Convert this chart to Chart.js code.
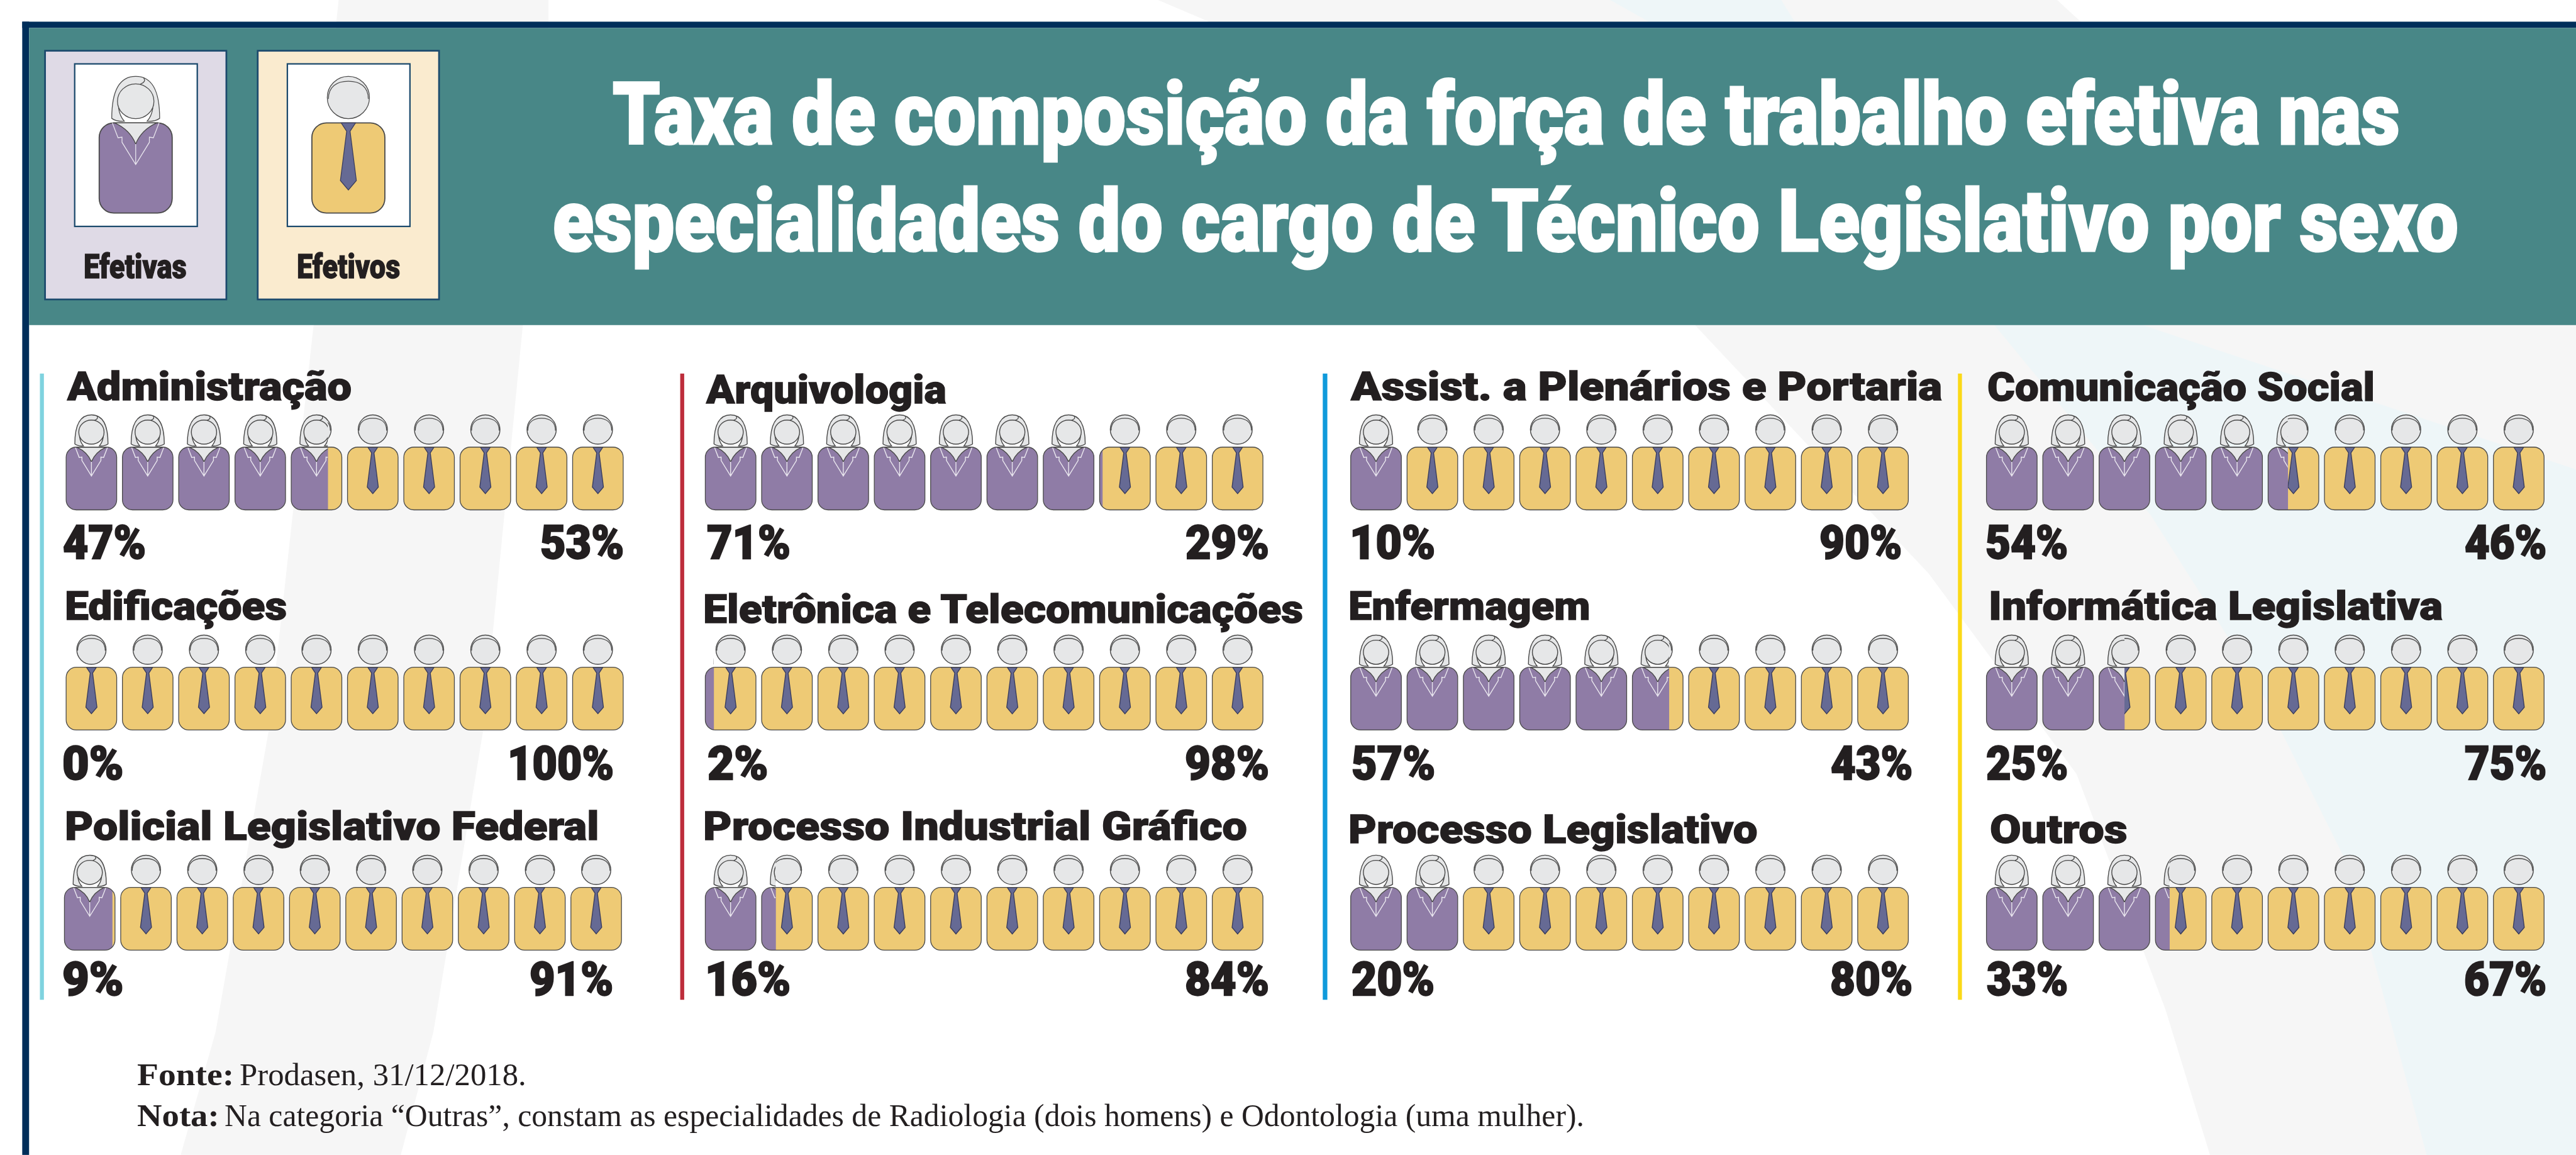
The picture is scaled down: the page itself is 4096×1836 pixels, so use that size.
<!DOCTYPE html>
<html lang="pt">
<head>
<meta charset="utf-8">
<title>Taxa de composição da força de trabalho efetiva</title>
<script src="https://cdn.jsdelivr.net/npm/chart.js@4"></script>
<style>
html,body{margin:0;padding:0;background:#fff;overflow:hidden;width:4096px;height:1836px}
#stage{position:relative;width:4096px;height:1836px;overflow:hidden}
canvas{position:absolute;display:block}
.t{position:absolute;white-space:pre;transform-origin:0 0;margin:0}
</style>
</head>
<body>
<div id="stage"><canvas id="bg" width="4096" height="1836" style="left:0;top:0"></canvas></div>
<script>
// ---------- data ----------
const categories = ["Administração","Arquivologia","Assist. a Plenários e Portaria","Comunicação Social",
  "Edificações","Eletrônica e Telecomunicações","Enfermagem","Informática Legislativa",
  "Policial Legislativo Federal","Processo Industrial Gráfico","Processo Legislativo","Outros"];
// printed percentages
const womenPct = [47,71,10,54,0,2,57,25,9,16,20,33];
const menPct   = [53,29,90,46,100,98,43,75,91,84,80,67];
// fill split as actually drawn in the picture
const womenFill = [47,71,10,54,0,2,57,25,9,13,20,33];
const menFill   = [53,29,90,46,100,98,43,75,91,87,80,67];
const seriesNames = ["Efetivas","Efetivos"];
const titleLines = ["Taxa de composição da força de trabalho efetiva nas","especialidades do cargo de Técnico Legislativo por sexo"];
const sourceLabel = "Fonte:", sourceText = "Prodasen, 31/12/2018.";
const noteLabel = "Nota:", noteText = "Na categoria “Outras”, constam as especialidades de Radiologia (dois homens) e Odontologia (uma mulher).";

// ---------- layout (reference pixels) ----------
const K = 4096/4518;
const C = {women:"#8f7ca6",men:"#eeca75",tie:"#666a94",head:"#e6e7e8",line:"#4a4a4a",ink:"#231f20",
  teal:"#488787",navy:"#002e5a",lilac:"#dfdae6",cream:"#faebcf",gray:"#f6f6f6",pale:"#eef6f8",cardEdge:"#1c4a6d"};
const figL=[116,1237,2369,3484,116,1237,2369,3484,113,1237,2369,3484];
const figR=[1093,2215,3347,4462,1093,2215,3347,4462,1090,2215,3347,4462];
const bodyTop=[784,784,784,784,1170,1170,1170,1170,1556,1556,1556,1556];
const BODY_H=110, GAP=10;
const nameX=[[117,616],[1237,1659],[2368,3406],[3487,4162],[117,502],[1237,2287],[2368,2786],[3491,4283],[117,1047],[1237,2187],[2368,3081],[3491,3729]];
const nameBase=[701,707,701,703,1087,1092,1087,1087,1473,1473,1478,1478];
const pctBase=[980,980,980,980,1367,1367,1367,1367,1745,1745,1745,1745];
const wX=[[111,254],[1241,1385],[2372,2515],[3484,3625],[111,214],[1242,1345],[2372,2515],[3484,3625],[111,214],[1242,1385],[2372,2515],[3484,3625]];
const mX=[[950,1093],[2080,2224],[3193,3334],[4324,4465],[895,1074],[2080,2224],[3212,3353],[4324,4465],[931,1074],[2080,2224],[3212,3353],[4324,4465]];
const accents=[[70,77,"#7fd3df"],[1193,1200,"#bd2d3b"],[2320,2328,"#0f9adb"],[3434,3441,"#fbd917"]];

// ---------- figure pieces (local units: body 128 x 158, x=0 at centre, y=0 at body top) ----------
function bodyPath(ctx,x,y,w,h){ctx.roundRect(x,y,w,h,w*0.2);}
function womanHead(c){
  c.fillStyle=C.head;c.strokeStyle=C.line;
  c.beginPath();c.moveTo(-42,-8);c.bezierCurveTo(-42,-42,-36,-81.5,0,-81.5);c.bezierCurveTo(36,-81.5,42,-42,42,-8);
  c.quadraticCurveTo(34,-2,20,-3);c.quadraticCurveTo(28,-12,30,-26);c.lineTo(-30,-26);c.quadraticCurveTo(-28,-12,-20,-3);c.quadraticCurveTo(-34,-2,-42,-8);c.closePath();c.fill();c.stroke();
  c.beginPath();c.ellipse(0,-38,32,30.5,0,0,7);c.fill();c.stroke();
  c.beginPath();c.moveTo(14,-79);c.quadraticCurveTo(19,-72,8,-68);c.stroke();
}
function womanCollar(c){
  c.fillStyle=C.head;c.strokeStyle=C.line;
  c.beginPath();c.moveTo(-37,0);c.quadraticCurveTo(-10,12,0,37);c.quadraticCurveTo(10,12,37,0);c.closePath();c.fill();c.stroke();
  c.strokeStyle="#e9e6ee";
  c.beginPath();c.moveTo(-41,0);c.lineTo(-31,26);c.lineTo(-24,25);c.lineTo(-24,34);c.lineTo(0,73);c.lineTo(24,34);c.lineTo(24,25);c.lineTo(31,26);c.lineTo(41,0);c.moveTo(0,37);c.lineTo(0,73);c.stroke();
}
function manHead(c){
  c.fillStyle=C.head;c.strokeStyle=C.line;
  c.beginPath();c.ellipse(0,-44.5,37,37,0,0,7);c.fill();c.stroke();
  c.beginPath();c.moveTo(-35,-42);c.bezierCurveTo(-35,-64,-20,-73,0,-73);c.bezierCurveTo(20,-73,35,-64,35,-42);c.stroke();
}
function manTie(c){
  c.fillStyle=C.tie;c.strokeStyle="#3a3d5e";
  c.beginPath();c.moveTo(-12.6,0);c.lineTo(12.6,0);c.lineTo(3,14.6);c.lineTo(14,101);c.lineTo(0,117.5);c.lineTo(-14,101);c.lineTo(-3,14.6);c.closePath();c.fill();c.stroke();
}
function local(ctx,cx,top,s,fn){
  ctx.save();ctx.translate(cx,top);ctx.scale(s,s);ctx.lineWidth=1.4/Math.max(s,0.6);fn(ctx);ctx.restore();
}

// ---------- background, frame, header, legend cards ----------
(function(){
  const c=document.getElementById("bg").getContext("2d");c.scale(K,K);
  const poly=(pts,col)=>{c.fillStyle=col;c.beginPath();pts.forEach((p,i)=>i?c.lineTo(p[0],p[1]):c.moveTo(p[0],p[1]));c.closePath();c.fill();};
  c.fillStyle="#fff";c.fillRect(0,0,4518,2025);
  poly([[594,0],[590,37],[550,570],[472,1277],[378,1810],[317,2025],[703,2025],[760,1810],[848,1277],[917,570],[962,37],[962,0]],C.gray);
  poly([[2031,0],[2118,37],[2973,570],[3383,1006],[3642,1357],[3798,1770],[3876,2025],[4518,2025],[4518,500],[3648,37],[3608,0]],C.gray);
  poly([[2824,0],[2890,37],[3498,570],[3772,903],[3959,1198],[4118,1517],[4198,1810],[4256,2025],[4518,2025],[4518,823],[3758,570],[3147,37],[3124,0]],C.pale);
  c.fillStyle=C.navy;c.fillRect(39,38,4479,11);c.fillRect(39,38,12,1987);
  c.fillStyle=C.teal;c.fillRect(51,49,4467,521);
  accents.forEach(a=>{c.fillStyle=a[2];c.fillRect(a[0],655,a[1]-a[0],1098);});
  [[79,C.lilac,0],[452,C.cream,1]].forEach(d=>{
    const x=d[0];
    c.fillStyle=d[1];c.strokeStyle=C.cardEdge;c.lineWidth=3;c.fillRect(x,89,318,436);c.strokeRect(x,89,318,436);
    c.fillStyle="#fff";c.lineWidth=2.5;c.fillRect(x+52,112,215,285);c.strokeRect(x+52,112,215,285);
    const cx=x+159;
    if(d[2]===0) local(c,cx,215.5,1,g=>womanHead(g)); else local(c,cx,215.5,1,g=>manHead(g));
    c.fillStyle=d[2]===0?C.women:C.men;c.strokeStyle=C.line;c.lineWidth=2;
    c.beginPath();bodyPath(c,cx-64,215.5,128,158);c.fill();c.stroke();
    if(d[2]===0) local(c,cx,215.5,1,g=>womanCollar(g)); else local(c,cx,215.5,1,g=>manTie(g));
  });
})();

// ---------- pictogram charts ----------
const pictogram={id:"pictogram",
  figs(chart){
    const x=chart.scales.x,a=chart.chartArea,g=GAP*K/2,r=[];
    for(let i=0;i<10;i++){const l=x.getPixelForValue(i*10)+g,rr=x.getPixelForValue((i+1)*10)-g;r.push({l,w:rr-l,t:a.top,h:a.bottom-a.top});}
    return r;
  },
  beforeDatasetDraw(chart){
    const c=chart.ctx;c.save();c.beginPath();
    this.figs(chart).forEach(f=>bodyPath(c,f.l,f.t,f.w,f.h));c.clip();
  },
  afterDatasetDraw(chart){chart.ctx.restore();},
  afterDatasetsDraw(chart){
    const c=chart.ctx,split=chart.getDatasetMeta(0).data[0].x;
    const figs=this.figs(chart),W=chart.width,H=chart.height;
    figs.forEach(f=>{
      const cx=f.l+f.w/2,s=f.w/128;
      c.save();c.beginPath();c.rect(0,0,split,H);c.clip();
      local(c,cx,f.t,s,g=>{womanHead(g);womanCollar(g);});c.restore();
      c.save();c.beginPath();c.rect(split,0,W-split,H);c.clip();
      local(c,cx,f.t,s,g=>{manHead(g);manTie(g);});c.restore();
      c.strokeStyle=C.line;c.lineWidth=1.3;c.beginPath();bodyPath(c,f.l,f.t,f.w,f.h);c.stroke();
    });
  }
};
const stage=document.getElementById("stage");
categories.forEach((name,i)=>{
  const aL=(figL[i]-GAP/2)*K,aR=(figR[i]+GAP/2)*K,aT=bodyTop[i]*K,aB=(bodyTop[i]+BODY_H)*K;
  const cL=Math.floor(aL)-2,cR=Math.ceil(aR)+2,cT=Math.floor(aT-62*K),cB=Math.ceil(aB)+3;
  const cv=document.createElement("canvas");
  cv.width=cR-cL;cv.height=cB-cT;cv.style.left=cL+"px";cv.style.top=cT+"px";cv.style.width=(cR-cL)+"px";cv.style.height=(cB-cT)+"px";
  stage.appendChild(cv);
  new Chart(cv,{type:"bar",plugins:[pictogram],
    data:{labels:[name],datasets:[
      {label:seriesNames[0],data:[womenFill[i]],backgroundColor:C.women,borderWidth:0,barPercentage:1,categoryPercentage:1},
      {label:seriesNames[1],data:[menFill[i]],backgroundColor:C.men,borderWidth:0,barPercentage:1,categoryPercentage:1}]},
    options:{indexAxis:"y",responsive:false,animation:false,devicePixelRatio:1,
      layout:{padding:{left:aL-cL,right:cR-aR,top:aT-cT,bottom:cB-aB}},
      plugins:{legend:{display:false},tooltip:{enabled:false},title:{display:false}},
      scales:{x:{type:"linear",min:0,max:100,stacked:true,display:false},y:{stacked:true,display:false}}}});
});

// ---------- text: each label is fitted to its measured ink extent ----------
const probe=document.createElement("canvas");
const pc=probe.getContext("2d",{willReadFrequently:true});
function label(text,x1,x2,base,size,weight,family,color,stroke){
  const px=size*K,font=weight+" "+px+"px "+family,sw=(stroke||0)*K;
  pc.font=font;
  const m=pc.measureText(text),pad=30,W=Math.ceil(m.width)+pad*2,Hh=Math.ceil(px*2),by=Math.ceil(px*1.4);
  probe.width=W;probe.height=Hh;
  pc.font=font;pc.fillStyle="#000";pc.strokeStyle="#000";pc.lineWidth=sw;
  pc.fillText(text,pad,by);if(sw)pc.strokeText(text,pad,by);
  const d=pc.getImageData(0,0,W,Hh).data;let a=W,b=0;
  for(let y=0;y<Hh;y++)for(let x=0;x<W;x++)if(d[(y*W+x)*4+3]>100){if(x<a)a=x;if(x>b)b=x;}
  const sx=(x2-x1)*K/(b-a+1),left=x1*K-(a-pad)*sx;
  const asc=m.fontBoundingBoxAscent,desc=m.fontBoundingBoxDescent;
  const el=document.createElement("div");el.className="t";el.textContent=text;
  el.style.cssText="font:"+font+";line-height:"+(asc+desc)+"px;color:"+color+";left:"+left+"px;top:"+(base*K-asc)+"px;transform:scaleX("+sx+");"+(sw?"-webkit-text-stroke:"+sw+"px "+color+";":"");
  stage.appendChild(el);
}
const HEAVY="Roboto, 'Liberation Sans', sans-serif",SERIF="'Liberation Serif', serif";
label(titleLines[0],1075,4206,253,152,900,HEAVY,"#fff",3.5);
label(titleLines[1],971,4313,440,152,900,HEAVY,"#fff",3.5);
label(seriesNames[0],149,327,487,60,900,HEAVY,C.ink,1.5);
label(seriesNames[1],522,700,487,60,900,HEAVY,C.ink,1.5);
categories.forEach((name,i)=>{
  label(name,nameX[i][0],nameX[i][1],nameBase[i],70,900,HEAVY,C.ink,1.5);
  label(womenPct[i]+"%",wX[i][0],wX[i][1],pctBase[i],81,900,HEAVY,C.ink,2.5);
  label(menPct[i]+"%",mX[i][0],mX[i][1],pctBase[i],81,900,HEAVY,C.ink,2.5);
});
label(sourceLabel,242,405,1903,56,700,SERIF,C.ink);
label(sourceText,421,919,1903,56,400,SERIF,C.ink);
label(noteLabel,242,380,1974,56,700,SERIF,C.ink);
label(noteText,395,2775,1974,56,400,SERIF,C.ink);
</script>
</body>
</html>
